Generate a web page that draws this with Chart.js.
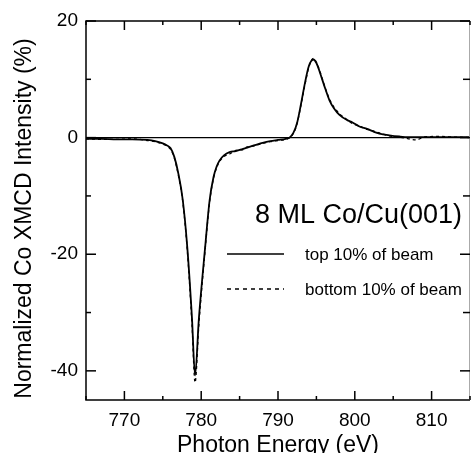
<!DOCTYPE html>
<html>
<head>
<meta charset="utf-8">
<script src="https://cdn.jsdelivr.net/npm/chart.js@4.4.1/dist/chart.umd.min.js"></script>
<style>
  html, body { margin: 0; padding: 0; background: #fff; }
  #wrap { width: 471px; height: 453px; }
</style>
</head>
<body>
<div id="wrap"><canvas id="xmcd" width="471" height="453"></canvas></div>
<script>
// photon energy (eV) and XMCD signal (%) for the two beam slices
const energyTop = [765, 767, 769, 771, 773, 774, 775, 775.5, 776, 776.5, 777, 777.6, 778.2, 778.8, 779.2, 779.7, 780.5, 781.1, 781.6, 782, 782.4, 783, 783.7, 784.5, 785.3, 786, 787, 788, 789, 790, 791, 791.5, 792, 792.5, 793, 793.5, 794, 794.6, 795, 795.5, 796, 796.7, 797.3, 798, 799, 799.7, 800.6, 801.6, 802.5, 803.2, 804.5, 805.8, 807, 809, 811, 813, 815];
const signalTop = [-0.2, -0.2, -0.3, -0.3, -0.4, -0.6, -1.0, -1.3, -1.8, -3.3, -6.0, -10.7, -19, -31, -40.8, -31, -19, -10.7, -6.8, -5.0, -3.9, -3.0, -2.5, -2.3, -2.0, -1.7, -1.3, -0.9, -0.6, -0.4, -0.2, 0, 0.8, 2.6, 5.8, 9.3, 12.2, 13.4, 12.8, 11.0, 9.0, 6.4, 5.0, 3.9, 3.0, 2.6, 1.9, 1.5, 1.0, 0.7, 0.4, 0.2, 0.1, 0.1, 0.1, 0.1, 0.1];

const energyBottom = [765, 767, 769, 771, 773, 774, 775, 775.5, 776, 776.5, 777, 777.6, 778.2, 778.8, 779.2, 779.7, 780.5, 781.1, 781.6, 782, 782.4, 783, 783.7, 784.5, 785.3, 786, 787, 788, 789, 790, 791, 791.5, 792, 792.5, 793, 793.5, 794, 794.6, 795, 795.5, 796, 796.7, 797.3, 798, 799, 799.7, 800.6, 801.6, 802.5, 803.2, 804.5, 805.8, 807, 808, 809, 811, 813, 815];
const signalBottom = [-0.2, -0.3, -0.3, -0.2, -0.5, -0.7, -1.1, -1.4, -2.0, -3.5, -6.3, -11.0, -19.5, -32, -42.0, -32, -19.4, -11.0, -7.0, -5.2, -4.1, -3.2, -2.8, -2.2, -2.1, -1.6, -1.4, -1.0, -0.7, -0.5, -0.3, 0, 0.7, 2.5, 5.6, 9.0, 12.0, 13.6, 12.9, 11.2, 9.1, 6.6, 5.2, 4.1, 3.1, 2.4, 2.0, 1.4, 1.1, 0.8, 0.3, 0.1, -0.2, -0.4, 0.1, 0.2, 0.1, 0.0];

const xTickValues = [770, 780, 790, 800, 810];
const xMinorValues = [765, 775, 785, 795, 805, 815];
const yTickValues = [-40, -20, 0, 20];
const yMinorValues = [-30, -10, 10];

const sampleLabel = '8 ML Co/Cu(001)';
const seriesNames = ['top 10% of beam', 'bottom 10% of beam'];
const xTitle = 'Photon Energy (eV)';
const yTitle = 'Normalized Co XMCD Intensity (%)';

const FONT = '"Liberation Sans", Arial, Helvetica, sans-serif';

function toPoints(xs, ys) {
    return xs.map((x, i) => ({ x: x, y: ys[i] }));
}

// frame, inward tick marks, titles and the in-plot legend
const framePlugin = {
    id: 'frame',
    afterDraw(chart) {
        const ctx = chart.ctx;
        const area = chart.chartArea;
        const xs = chart.scales.x;
        const ys = chart.scales.y;
        ctx.save();
        ctx.strokeStyle = '#000';
        ctx.lineWidth = 1.5;

        ctx.beginPath();
        ctx.moveTo(area.right, area.top);
        ctx.lineTo(area.left, area.top);
        ctx.lineTo(area.left, area.bottom);
        ctx.lineTo(area.right, area.bottom);
        ctx.stroke();
        ctx.strokeStyle = '#aaa';
        ctx.lineWidth = 1;
        ctx.beginPath();
        ctx.moveTo(area.right - 0.5, area.top);
        ctx.lineTo(area.right - 0.5, area.bottom);
        ctx.stroke();

        ctx.strokeStyle = '#000';
        ctx.lineWidth = 1.5;
        const tick = (x1, y1, x2, y2) => {
            ctx.beginPath();
            ctx.moveTo(x1, y1);
            ctx.lineTo(x2, y2);
            ctx.stroke();
        };
        xTickValues.forEach(v => {
            const px = xs.getPixelForValue(v);
            tick(px, area.bottom, px, area.bottom - 9);
            tick(px, area.top, px, area.top + 9);
        });
        xMinorValues.forEach(v => {
            const px = xs.getPixelForValue(v);
            tick(px, area.bottom, px, area.bottom - 4);
            tick(px, area.top, px, area.top + 4);
        });
        yTickValues.forEach(v => {
            const py = ys.getPixelForValue(v);
            tick(area.left, py, area.left + 10, py);
            tick(area.right, py, area.right - 10, py);
        });
        yMinorValues.forEach(v => {
            const py = ys.getPixelForValue(v);
            tick(area.left, py, area.left + 5, py);
            tick(area.right, py, area.right - 7, py);
        });

        // axis titles
        ctx.fillStyle = '#000';
        ctx.font = '23px ' + FONT;
        ctx.textAlign = 'center';
        ctx.textBaseline = 'alphabetic';
        ctx.fillText(xTitle, (area.left + area.right) / 2, 452);
        ctx.save();
        ctx.translate(31, (area.top + area.bottom) / 2 + 8);
        ctx.rotate(-Math.PI / 2);
        ctx.fillText(yTitle, 0, 0);
        ctx.restore();

        // legend inside the plot
        ctx.textAlign = 'left';
        ctx.textBaseline = 'middle';
        ctx.font = '27px ' + FONT;
        ctx.fillText(sampleLabel, 255, 216);
        ctx.font = '17px ' + FONT;
        ctx.fillText(seriesNames[0], 305, 255);
        ctx.fillText(seriesNames[1], 305, 290);
        ctx.lineWidth = 1.5;
        tick(227, 254, 284, 254);
        ctx.setLineDash([4, 4]);
        tick(227, 289, 284, 289);
        ctx.restore();
    }
};

const chart = new Chart(document.getElementById('xmcd').getContext('2d'), {
    type: 'line',
    data: {
        datasets: [{
            label: seriesNames[0],
            data: toPoints(energyTop, signalTop),
            borderColor: '#000',
            borderWidth: 1.8,
            pointRadius: 0,
            cubicInterpolationMode: 'monotone'
        }, {
            label: seriesNames[1],
            data: toPoints(energyBottom, signalBottom),
            borderColor: '#000',
            borderWidth: 1.3,
            borderDash: [3, 3],
            pointRadius: 0,
            cubicInterpolationMode: 'monotone'
        }]
    },
    options: {
        responsive: false,
        animation: false,
        layout: { padding: { top: 21, right: 1, left: 0, bottom: 0 } },
        plugins: { legend: { display: false }, tooltip: { enabled: false } },
        scales: {
            x: {
                type: 'linear',
                min: 765,
                max: 815,
                afterBuildTicks: s => { s.ticks = xTickValues.map(v => ({ value: v })); },
                afterFit: s => { s.height = 53; },
                grid: { display: false },
                border: { display: false },
                ticks: { color: '#000', padding: 1, font: { family: FONT, size: 19 } }
            },
            y: {
                min: -45,
                max: 20,
                afterBuildTicks: s => { s.ticks = yTickValues.map(v => ({ value: v })); },
                afterFit: s => { s.width = 86; },
                grid: {
                    drawTicks: false,
                    lineWidth: 1.2,
                    color: c => (c.tick && c.tick.value === 0 ? '#000' : 'rgba(0,0,0,0)')
                },
                border: { display: false },
                ticks: { color: '#000', padding: 8, font: { family: FONT, size: 19 } }
            }
        }
    },
    plugins: [framePlugin]
});
</script>
</body>
</html>
